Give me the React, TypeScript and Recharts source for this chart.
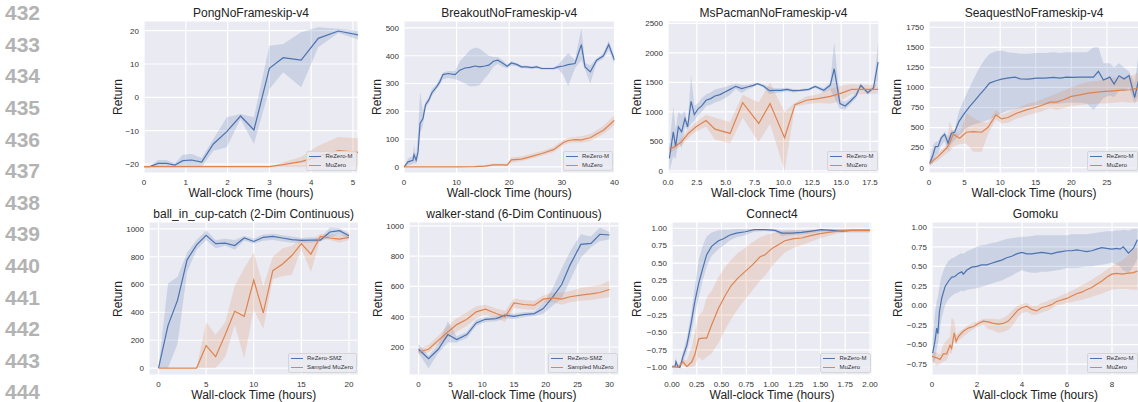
import React from 'react';
import { ComposedChart, Area, Line, XAxis, YAxis, CartesianGrid } from 'recharts';

// each point: [hours, mean, lower, upper]
type Pt = [number, number, number, number];

const lineNumbers = ['432', '433', '434', '435', '436', '437', '438', '439', '440', '441', '442', '443', '444'];

const pongReZero: Pt[] = [
  [0, -20.8, -20.8, -20.8], [0.14, -20.8, -20.8, -20.6], [0.34, -19.8, -20.8, -18.8], [0.54, -19.8, -20.8, -18.8],
  [0.74, -20.3, -20.8, -19.8], [0.93, -19.0, -20.8, -17.2], [1.14, -18.8, -20.8, -17.0], [1.38, -19.4, -20.8, -18.2],
  [1.66, -14.0, -16.0, -12.5], [1.98, -10.3, -15.0, -6.0], [2.31, -5.6, -6.5, -5.0], [2.63, -9.8, -14.0, -6.0],
  [3.0, 8.7, 2.5, 15.5], [3.33, 11.9, 7.5, 16.0], [3.76, 11.2, 3.0, 19.5], [4.17, 17.7, 15.0, 21.0],
  [4.65, 19.9, 19.3, 20.6], [5.13, 18.7, 17.3, 20.0],
];
const pongMuZero: Pt[] = [
  [0, -20.8, -20.8, -20.8], [0.54, -20.8, -20.8, -20.8], [1.14, -20.8, -20.8, -20.8], [1.66, -20.8, -20.8, -20.8],
  [2.31, -20.8, -20.8, -20.8], [3.0, -20.8, -20.8, -20.8], [3.33, -20.2, -20.8, -19.5], [3.76, -19.3, -20.8, -17.8],
  [4.17, -17.8, -20.8, -14.5], [4.65, -16.0, -20.5, -11.9], [5.13, -16.5, -20.6, -12.3],
];

const breakoutReZero: Pt[] = [
  [0, 0, 0, 0], [0.76, 18, 5, 30], [1.7, 24, 10, 40], [1.9, 44, 15, 80], [2.3, 24, 10, 40], [2.67, 54, 30, 120],
  [3.05, 156, 120, 270], [3.6, 174, 150, 200], [4.1, 224, 210, 235], [4.7, 240, 230, 250], [5.3, 267, 255, 280],
  [6.2, 288, 280, 298], [6.8, 306, 295, 318], [7.4, 332, 315, 340], [8.4, 336, 320, 345], [9.7, 332, 315, 345],
  [10.6, 348, 310, 380], [11.6, 356, 300, 400], [12.5, 358, 290, 420], [13.5, 363, 290, 430], [14.4, 360, 295, 425],
  [15.4, 363, 320, 410], [16.1, 366, 335, 400], [17.0, 380, 360, 395], [17.8, 384, 370, 395], [18.7, 374, 360, 385],
  [19.6, 362, 355, 368], [20.4, 374, 365, 380], [21.4, 369, 362, 375], [22.3, 360, 355, 365], [23.3, 360, 355, 365],
  [24.3, 357, 352, 362], [25.2, 360, 355, 365], [26.2, 354, 350, 358], [27.1, 354, 350, 358], [28.4, 354, 350, 358],
  [29.3, 360, 352, 368], [30.3, 363, 330, 390], [31.2, 368, 290, 410], [32.5, 372, 355, 385], [33.7, 440, 385, 500],
  [34.4, 360, 350, 375], [35.4, 342, 300, 365], [36.6, 384, 375, 390], [37.9, 400, 390, 410], [38.9, 440, 420, 455],
  [40.0, 384, 370, 395],
];
const breakoutMuZero: Pt[] = [
  [0, 0, 0, 0], [5.3, 0, 0, 1], [10.6, 0, 0, 2], [13.5, 1, 0, 4], [15.4, 3, 0, 7], [17.0, 7, 2, 12], [18.7, 7, 2, 12],
  [19.6, 6, 2, 11], [20.4, 25, 15, 35], [22.3, 28, 20, 37], [24.3, 38, 30, 47], [26.2, 48, 40, 57], [28.4, 62, 53, 72],
  [30.3, 88, 78, 98], [31.2, 95, 85, 105], [32.5, 98, 88, 108], [33.7, 97, 87, 110], [35.4, 105, 93, 118],
  [36.6, 118, 105, 132], [37.9, 132, 118, 148], [40.0, 168, 150, 186],
];

const pacmanReZero: Pt[] = [
  [0.12, 213, 0, 420], [0.46, 663, 250, 1090], [0.66, 410, 200, 700], [0.9, 747, 500, 1000], [1.18, 663, 380, 950],
  [1.47, 888, 750, 1020], [1.7, 747, 690, 800], [2.0, 1180, 800, 1620], [2.28, 955, 850, 1100], [2.63, 1057, 950, 1150],
  [2.92, 1101, 1000, 1230], [3.3, 1197, 1100, 1300], [3.7, 1225, 1120, 1330], [4.07, 1270, 1160, 1380],
  [4.5, 1293, 1190, 1400], [4.94, 1337, 1230, 1420], [5.38, 1382, 1290, 1450], [5.87, 1433, 1390, 1480],
  [6.39, 1394, 1320, 1460], [6.88, 1422, 1380, 1460], [7.4, 1450, 1420, 1480], [7.75, 1478, 1460, 1495],
  [8.27, 1438, 1410, 1465], [8.79, 1360, 1300, 1420], [9.28, 1366, 1320, 1400], [9.77, 1366, 1330, 1400],
  [10.3, 1382, 1350, 1410], [10.8, 1360, 1330, 1390], [11.45, 1366, 1340, 1390], [12.2, 1382, 1360, 1400],
  [12.75, 1433, 1410, 1455], [13.5, 1366, 1330, 1400], [14.05, 1450, 1380, 1500], [14.4, 1731, 1250, 2180],
  [14.9, 1141, 1050, 1200], [15.35, 1101, 1040, 1170], [15.8, 1180, 1130, 1230], [16.3, 1281, 1230, 1330],
  [16.7, 1450, 1420, 1480], [17.3, 1326, 1290, 1360], [17.8, 1405, 1380, 1430], [18.2, 1843, 1500, 2180],
];
const pacmanMuZero: Pt[] = [
  [0.12, 371, 300, 420], [0.6, 410, 360, 450], [1.18, 495, 430, 560], [1.76, 635, 560, 700], [2.43, 747, 670, 830],
  [3.3, 854, 750, 950], [4.07, 708, 530, 900], [5.38, 635, 470, 830], [6.47, 1158, 900, 1290], [7.86, 804, 490, 1160],
  [8.84, 1141, 800, 1500], [10.1, 562, 0, 1000], [11.0, 1124, 1090, 1160], [12.0, 1197, 1130, 1260],
  [13.0, 1225, 1150, 1300], [14.05, 1264, 1140, 1390], [14.9, 1309, 1180, 1440], [15.9, 1382, 1300, 1470],
  [16.9, 1382, 1300, 1460], [18.2, 1382, 1310, 1450],
];

const seaquestReZero: Pt[] = [
  [0.1, 54, 20, 100], [0.56, 158, 60, 280], [0.9, 262, 150, 320], [1.27, 262, 180, 330], [1.74, 375, 280, 400],
  [2.2, 417, 330, 450], [2.68, 304, 210, 380], [3.15, 429, 300, 460], [3.6, 442, 340, 470], [4.2, 575, 400, 700],
  [5.0, 679, 480, 870], [5.7, 762, 520, 1000], [6.4, 833, 540, 1130], [7.1, 908, 560, 1250], [7.84, 983, 580, 1350],
  [8.5, 1054, 600, 1420], [9.4, 1083, 640, 1450], [10.2, 1104, 680, 1460], [11.0, 1117, 710, 1440],
  [12.07, 1129, 730, 1430], [12.8, 1108, 740, 1420], [14.0, 1104, 760, 1420], [15.1, 1117, 780, 1430],
  [16.3, 1117, 790, 1430], [17.5, 1125, 790, 1440], [18.4, 1117, 800, 1430], [19.3, 1129, 810, 1440],
  [20.3, 1125, 810, 1440], [21.2, 1129, 810, 1440], [22.2, 1129, 800, 1440], [23.1, 1129, 720, 1500],
  [23.8, 1200, 790, 1500], [24.5, 1092, 870, 1300], [25.4, 1129, 900, 1300], [26.0, 1042, 880, 1250],
  [26.7, 1146, 960, 1300], [27.4, 1104, 950, 1250], [28.1, 1150, 1000, 1200], [28.9, 875, 800, 1050],
  [29.4, 1075, 900, 1400],
];
const seaquestMuZero: Pt[] = [
  [0.1, 54, 30, 80], [1.27, 138, 90, 180], [2.44, 242, 180, 280], [2.9, 304, 200, 575], [3.4, 417, 260, 450],
  [4.3, 367, 300, 420], [5.26, 442, 300, 680], [6.2, 450, 200, 620], [7.4, 442, 200, 570], [8.3, 504, 420, 560],
  [9.4, 658, 600, 720], [10.2, 608, 550, 660], [11.1, 625, 560, 690], [12.3, 679, 610, 740], [13.7, 721, 650, 790],
  [14.9, 750, 680, 820], [15.8, 775, 700, 850], [17.0, 817, 740, 890], [17.9, 817, 720, 920], [18.9, 846, 740, 960],
  [20.0, 888, 770, 1000], [21.2, 908, 780, 1040], [22.4, 929, 790, 1070], [23.6, 942, 800, 1080],
  [24.7, 950, 800, 1100], [25.9, 958, 810, 1120], [27.1, 967, 820, 1130], [28.3, 971, 810, 1140],
  [29.4, 992, 820, 1180],
];

const cupReZero: Pt[] = [
  [0, 0, 0, 0], [1, 307, 0, 608], [2, 488, 174, 657], [3, 778, 690, 830], [4, 886, 850, 920], [5, 954, 920, 990],
  [6, 894, 860, 920], [7, 898, 880, 930], [8, 881, 850, 920], [9, 935, 915, 950], [10, 910, 895, 930],
  [11, 940, 915, 960], [12, 947, 920, 965], [13, 935, 910, 955], [14, 923, 900, 945], [15, 918, 900, 935],
  [16, 920, 900, 940], [17, 920, 910, 935], [18, 978, 940, 1010], [19, 988, 960, 1005], [20, 951, 935, 970],
];
const cupMuZero: Pt[] = [
  [0, 0, 0, 0], [1, 0, 0, 0], [2, 0, 0, 0], [3, 0, 0, 0], [4, 0, 0, 0], [5, 162, 0, 330], [6, 82, 0, 240],
  [7, 239, 80, 330], [8, 408, 310, 590], [9, 372, 70, 720], [10, 633, 420, 830], [11, 396, 280, 590],
  [12, 700, 640, 800], [13, 746, 660, 860], [14, 809, 670, 880], [15, 894, 860, 930], [16, 819, 690, 910],
  [17, 947, 930, 965], [18, 935, 920, 960], [19, 927, 900, 955], [20, 940, 920, 960],
];

const walkerReZero: Pt[] = [
  [0, 185, 160, 220], [1.57, 123, 60, 140], [3.1, 185, 160, 220], [4.6, 282, 230, 370], [6.0, 249, 230, 270],
  [7.6, 282, 260, 300], [9.06, 359, 340, 380], [10.5, 383, 365, 400], [12.2, 388, 370, 405], [13.6, 410, 390, 425],
  [15.0, 403, 385, 420], [16.5, 414, 395, 430], [18.2, 421, 405, 435], [19.6, 454, 420, 490], [21.1, 532, 475, 590],
  [22.5, 613, 520, 720], [23.8, 741, 640, 830], [25.5, 878, 790, 945], [27.1, 885, 860, 930], [28.5, 945, 900, 990],
  [30, 940, 910, 960],
];
const walkerMuZero: Pt[] = [
  [0, 167, 150, 190], [1.57, 185, 165, 215], [3.1, 244, 215, 275], [4.6, 299, 260, 340], [6.0, 348, 300, 390],
  [7.6, 383, 340, 430], [9.06, 432, 390, 470], [10.5, 450, 415, 480], [12.2, 421, 390, 455], [13.6, 399, 365, 440],
  [15.0, 492, 460, 520], [16.5, 481, 450, 510], [18.2, 476, 445, 505], [19.6, 516, 490, 540], [21.1, 525, 495, 560],
  [22.5, 516, 480, 560], [23.8, 532, 495, 570], [25.5, 543, 505, 590], [27.1, 551, 510, 600], [28.5, 560, 520, 610],
  [30, 580, 530, 640],
];

const connectReZero: Pt[] = [
  [0, -0.99, -1.0, -0.97], [0.03, -0.99, -1.0, -0.97], [0.04, -0.92, -1.0, -0.86], [0.06, -0.99, -1.0, -0.97],
  [0.08, -1.0, -1.0, -0.97], [0.11, -0.85, -0.93, -0.78], [0.15, -0.68, -0.78, -0.58], [0.19, -0.39, -0.55, -0.25],
  [0.23, -0.06, -0.25, 0.15], [0.27, 0.21, 0.0, 0.55], [0.31, 0.42, 0.25, 0.75], [0.35, 0.62, 0.45, 0.88],
  [0.4, 0.74, 0.6, 0.94], [0.47, 0.82, 0.7, 0.97], [0.52, 0.85, 0.75, 0.98], [0.58, 0.9, 0.82, 0.98],
  [0.65, 0.93, 0.87, 0.99], [0.74, 0.95, 0.9, 0.99], [0.83, 0.98, 0.95, 0.99], [0.94, 0.98, 0.96, 0.99],
  [1.04, 0.97, 0.95, 0.99], [1.11, 0.93, 0.89, 0.97], [1.21, 0.93, 0.9, 0.97], [1.31, 0.94, 0.91, 0.97],
  [1.41, 0.96, 0.93, 0.98], [1.51, 0.98, 0.95, 0.99], [1.61, 0.97, 0.95, 0.99], [1.71, 0.96, 0.94, 0.99],
  [1.81, 0.97, 0.94, 0.99], [1.92, 0.97, 0.94, 0.99], [2.0, 0.97, 0.94, 0.99],
];
const connectMuZero: Pt[] = [
  [0, -0.99, -1.0, -0.97], [0.06, -1.0, -1.0, -0.97], [0.11, -0.92, -0.97, -0.88], [0.15, -0.99, -1.0, -0.9],
  [0.2, -0.92, -1.0, -0.7], [0.23, -0.82, -0.98, -0.5], [0.27, -0.59, -0.85, -0.25], [0.31, -0.58, -0.9, -0.2],
  [0.35, -0.58, -0.85, 0.0], [0.4, -0.39, -0.8, 0.1], [0.47, -0.15, -0.65, 0.3], [0.54, 0.04, -0.45, 0.45],
  [0.6, 0.18, -0.3, 0.55], [0.67, 0.29, -0.15, 0.65], [0.74, 0.38, -0.02, 0.72], [0.81, 0.47, 0.1, 0.8],
  [0.89, 0.59, 0.25, 0.87], [0.94, 0.62, 0.32, 0.9], [1.01, 0.71, 0.45, 0.93], [1.07, 0.76, 0.55, 0.95],
  [1.14, 0.82, 0.65, 0.96], [1.23, 0.85, 0.72, 0.97], [1.31, 0.86, 0.76, 0.97], [1.39, 0.89, 0.8, 0.98],
  [1.48, 0.92, 0.85, 0.98], [1.58, 0.94, 0.89, 0.99], [1.68, 0.96, 0.93, 0.99], [1.78, 0.97, 0.95, 0.99],
  [1.88, 0.97, 0.95, 0.99], [2.0, 0.97, 0.95, 0.99],
];

const gomokuReZero: Pt[] = [
  [0.03, -0.61, -0.75, -0.45], [0.13, -0.46, -0.7, -0.1], [0.21, -0.29, -0.55, 0.05], [0.26, -0.36, -0.5, 0.1],
  [0.33, -0.08, -0.35, 0.25], [0.43, 0.09, -0.15, 0.38], [0.58, 0.24, 0.0, 0.5], [0.73, 0.31, 0.08, 0.57],
  [0.87, 0.36, 0.12, 0.6], [1.02, 0.37, 0.15, 0.62], [1.17, 0.41, 0.17, 0.65], [1.32, 0.43, 0.19, 0.67],
  [1.39, 0.4, 0.18, 0.66], [1.54, 0.45, 0.2, 0.69], [1.76, 0.49, 0.21, 0.72], [1.99, 0.5, 0.22, 0.75],
  [2.21, 0.52, 0.24, 0.77], [2.43, 0.52, 0.26, 0.78], [2.65, 0.54, 0.28, 0.8], [2.87, 0.56, 0.3, 0.81],
  [3.1, 0.58, 0.32, 0.83], [3.32, 0.61, 0.35, 0.85], [3.54, 0.63, 0.38, 0.86], [3.76, 0.66, 0.42, 0.87],
  [3.99, 0.68, 0.45, 0.88], [4.21, 0.66, 0.43, 0.88], [4.43, 0.66, 0.42, 0.89], [4.65, 0.67, 0.42, 0.9],
  [4.87, 0.68, 0.43, 0.9], [5.1, 0.67, 0.43, 0.9], [5.32, 0.66, 0.44, 0.9], [5.54, 0.68, 0.45, 0.9],
  [5.76, 0.69, 0.46, 0.9], [5.99, 0.7, 0.48, 0.9], [6.21, 0.7, 0.48, 0.91], [6.43, 0.71, 0.48, 0.91],
  [6.65, 0.7, 0.49, 0.91], [6.87, 0.69, 0.5, 0.91], [7.1, 0.7, 0.5, 0.92], [7.32, 0.72, 0.51, 0.93],
  [7.54, 0.74, 0.52, 0.94], [7.76, 0.73, 0.53, 0.95], [7.99, 0.72, 0.55, 0.95], [8.21, 0.73, 0.52, 0.96],
  [8.36, 0.72, 0.5, 0.96], [8.5, 0.75, 0.45, 0.97], [8.73, 0.67, 0.42, 0.96], [8.95, 0.73, 0.5, 0.98],
  [9.13, 0.84, 0.6, 0.98],
];
const gomokuMuZero: Pt[] = [
  [0, -0.65, -0.7, -0.6], [0.2, -0.67, -0.77, -0.6], [0.36, -0.69, -0.75, -0.63], [0.5, -0.62, -0.72, -0.5],
  [0.65, -0.62, -0.7, -0.45], [0.8, -0.51, -0.6, -0.4], [0.87, -0.55, -0.62, -0.15], [0.99, -0.35, -0.45, -0.2],
  [1.07, -0.46, -0.5, -0.38], [1.17, -0.4, -0.45, -0.35], [1.39, -0.33, -0.4, -0.3], [1.61, -0.29, -0.35, -0.25],
  [1.84, -0.27, -0.3, -0.22], [2.06, -0.23, -0.27, -0.2], [2.28, -0.2, -0.25, -0.17], [2.5, -0.21, -0.3, -0.17],
  [2.73, -0.23, -0.32, -0.17], [2.95, -0.24, -0.35, -0.18], [3.17, -0.23, -0.34, -0.16], [3.39, -0.2, -0.31, -0.12],
  [3.61, -0.13, -0.25, -0.05], [3.81, -0.06, -0.15, 0.0], [3.99, -0.03, -0.1, 0.02], [4.21, -0.01, -0.08, 0.03],
  [4.43, -0.05, -0.12, 0.0], [4.65, -0.07, -0.12, 0.0], [4.87, -0.03, -0.09, 0.03], [5.1, -0.01, -0.07, 0.05],
  [5.32, 0.01, -0.04, 0.08], [5.54, 0.05, 0.0, 0.1], [5.76, 0.07, 0.01, 0.13], [5.99, 0.09, 0.03, 0.16],
  [6.21, 0.12, 0.04, 0.19], [6.43, 0.15, 0.06, 0.22], [6.65, 0.17, 0.07, 0.26], [6.87, 0.2, 0.09, 0.29],
  [7.1, 0.23, 0.11, 0.33], [7.32, 0.27, 0.13, 0.37], [7.54, 0.31, 0.15, 0.41], [7.76, 0.36, 0.18, 0.46],
  [7.99, 0.4, 0.2, 0.5], [8.21, 0.41, 0.21, 0.54], [8.43, 0.4, 0.21, 0.57], [8.65, 0.41, 0.21, 0.62],
  [8.95, 0.42, 0.2, 0.7], [9.13, 0.44, 0.2, 0.75],
];

const BLUE = '#4C72B0';
const ORANGE = '#DD8452';
const FONT = '"Liberation Sans", Arial, sans-serif';

const minus = (s: string) => s.replace('-', '\u2212');
const fmt0 = (v: number) => minus(String(v));
const fmt1 = (v: number) => minus(v.toFixed(1));
const fmt2 = (v: number) => minus(v.toFixed(2));

// join the two series on their x values; gaps are bridged with connectNulls
const mergeRows = (a: Pt[], b: Pt[]) => {
  const m = new Map<number, any>();
  a.forEach(([x, y, lo, hi]) => m.set(x, { ...(m.get(x) || { x }), a: y, aBand: [lo, hi] }));
  b.forEach(([x, y, lo, hi]) => m.set(x, { ...(m.get(x) || { x }), b: y, bBand: [lo, hi] }));
  return [...m.values()].sort((p, q) => p.x - q.x);
};

interface PanelProps {
  title: string;
  box: [number, number, number, number];
  labelX: number;
  xDomain: [number, number];
  yDomain: [number, number];
  xTicks: number[];
  yTicks: number[];
  xFmt: (v: number) => string;
  yFmt: (v: number) => string;
  a: Pt[];
  b: Pt[];
  names: [string, string];
}

const tickStyle = { fontSize: 8, fill: '#333', fontFamily: FONT };
const PAD_TOP = 10;
const PAD_RIGHT = 16;

const Panel: React.FC<PanelProps> = ({ title, box, labelX, xDomain, yDomain, xTicks, yTicks, xFmt, yFmt, a, b, names }) => {
  const [l, t, r, bt] = box;
  const w = r - l;
  const h = bt - t;
  const cx = (l + r) / 2;
  const rows = mergeRows(a, b);
  return (
    <>
      <div style={{ position: 'absolute', left: cx - 150, width: 300, top: t - 14, fontSize: 12, lineHeight: '12px', textAlign: 'center', color: '#222' }}>
        {title}
      </div>
      <div style={{ position: 'absolute', left: labelX - 50, top: (t + bt) / 2 - 7, width: 100, height: 14, lineHeight: '14px', fontSize: 12, textAlign: 'center', color: '#222', transform: 'rotate(-90deg)' }}>
        Return
      </div>
      <div style={{ position: 'absolute', left: cx - 150, width: 300, top: bt + 14, fontSize: 12, lineHeight: '12px', textAlign: 'center', color: '#222' }}>
        Wall-clock Time (hours)
      </div>
      <div style={{ position: 'absolute', left: l - 40, top: t - PAD_TOP }}>
        <ComposedChart width={w + 40 + PAD_RIGHT} height={h + 20 + PAD_TOP} data={rows}
          margin={{ top: PAD_TOP, right: PAD_RIGHT, bottom: 0, left: 0 }}>
          <CartesianGrid stroke="#fff" strokeWidth={1.2} fill="#EAEAF2" fillOpacity={1} />
          <XAxis type="number" dataKey="x" domain={xDomain} ticks={xTicks} tickFormatter={xFmt} allowDataOverflow
            axisLine={false} tickLine={false} tickSize={0} tickMargin={6} height={20} interval={0} tick={tickStyle} />
          <YAxis type="number" domain={yDomain} ticks={yTicks} tickFormatter={yFmt} allowDataOverflow
            axisLine={false} tickLine={false} tickSize={0} tickMargin={5} width={40} interval={0} tick={tickStyle} />
          <Area dataKey="aBand" stroke="none" fill={BLUE} fillOpacity={0.2} connectNulls dot={false} activeDot={false} isAnimationActive={false} />
          <Line dataKey="a" stroke={BLUE} strokeWidth={1.2} connectNulls dot={false} activeDot={false} isAnimationActive={false} />
          <Area dataKey="bBand" stroke="none" fill={ORANGE} fillOpacity={0.2} connectNulls dot={false} activeDot={false} isAnimationActive={false} />
          <Line dataKey="b" stroke={ORANGE} strokeWidth={1.2} connectNulls dot={false} activeDot={false} isAnimationActive={false} />
        </ComposedChart>
      </div>
      <div style={{ position: 'absolute', right: 1138 - (r - 1.5), bottom: 402 - (bt - 2), padding: '0.5px 3px 0.5px 2px', background: 'rgba(234,234,242,0.8)', border: '1px solid #d6d6d6', borderRadius: 2, fontSize: 6, color: '#333' }}>
        {names.map((n, i) => (
          <div key={n} style={{ display: 'flex', alignItems: 'center', height: 8.7, whiteSpace: 'nowrap' }}>
            <span style={{ display: 'inline-block', width: 12, borderTop: `1.2px solid ${i === 0 ? BLUE : ORANGE}`, marginRight: 4 }} />
            {n}
          </div>
        ))}
      </div>
    </>
  );
};

const atari: [string, string] = ['ReZero-M', 'MuZero'];
const control: [string, string] = ['ReZero-SMZ', 'Sampled MuZero'];

export default function App() {
  return (
    <div style={{ position: 'absolute', left: 0, top: 0, width: 1138, height: 402, overflow: 'hidden', background: '#fff', fontFamily: FONT }}>
      {lineNumbers.map((n, i) => (
        <div key={n} style={{ position: 'absolute', left: 0, width: 40, top: 13 + 31.6 * i - 6.75, fontSize: 21, lineHeight: '14px', fontWeight: 700, color: '#b3b3b3', textAlign: 'right' }}>
          {n}
        </div>
      ))}
      <Panel title="PongNoFrameskip-v4" box={[144, 21, 358, 173]} labelX={118} xDomain={[0, 5.12]} yDomain={[-22.7, 22.9]}
        xTicks={[0, 1, 2, 3, 4, 5]} yTicks={[-20, -10, 0, 10, 20]} xFmt={fmt0} yFmt={fmt0} a={pongReZero} b={pongMuZero} names={atari} />
      <Panel title="BreakoutNoFrameskip-v4" box={[404, 21, 614.5, 173]} labelX={377} xDomain={[0, 40]} yDomain={[-22, 525]}
        xTicks={[0, 10, 20, 30, 40]} yTicks={[0, 100, 200, 300, 400, 500]} xFmt={fmt0} yFmt={fmt0} a={breakoutReZero} b={breakoutMuZero} names={atari} />
      <Panel title="MsPacmanNoFrameskip-v4" box={[668, 21, 879, 173]} labelX={637} xDomain={[0, 18.28]} yDomain={[-35, 2540]}
        xTicks={[0, 2.5, 5, 7.5, 10, 12.5, 15, 17.5]} yTicks={[0, 500, 1000, 1500, 2000, 2500]} xFmt={fmt1} yFmt={fmt0} a={pacmanReZero} b={pacmanMuZero} names={atari} />
      <Panel title="SeaquestNoFrameskip-v4" box={[929, 21, 1139, 173]} labelX={897} xDomain={[0, 29.5]} yDomain={[-66, 1828]}
        xTicks={[0, 5, 10, 15, 20, 25]} yTicks={[0, 250, 500, 750, 1000, 1250, 1500, 1750]} xFmt={fmt0} yFmt={fmt0} a={seaquestReZero} b={seaquestMuZero} names={atari} />
      <Panel title="ball_in_cup-catch (2-Dim Continuous)" box={[149, 222, 358.5, 375]} labelX={118} xDomain={[-1, 21]} yDomain={[-50, 1050]}
        xTicks={[0, 5, 10, 15, 20]} yTicks={[0, 200, 400, 600, 800, 1000]} xFmt={fmt0} yFmt={fmt0} a={cupReZero} b={cupMuZero} names={control} />
      <Panel title="walker-stand (6-Dim Continuous)" box={[409, 222, 619, 375]} labelX={378} xDomain={[-1.5, 31.5]} yDomain={[15, 1026]}
        xTicks={[0, 5, 10, 15, 20, 25, 30]} yTicks={[200, 400, 600, 800, 1000]} xFmt={fmt0} yFmt={fmt0} a={walkerReZero} b={walkerMuZero} names={control} />
      <Panel title="Connect4" box={[672, 222, 872, 375]} labelX={637} xDomain={[0, 2.02]} yDomain={[-1.11, 1.09]}
        xTicks={[0, 0.25, 0.5, 0.75, 1, 1.25, 1.5, 1.75, 2]} yTicks={[-1, -0.75, -0.5, -0.25, 0, 0.25, 0.5, 0.75, 1]} xFmt={fmt2} yFmt={fmt2} a={connectReZero} b={connectMuZero} names={atari} />
      <Panel title="Gomoku" box={[932, 222, 1139, 375]} labelX={898} xDomain={[0, 9.2]} yDomain={[-0.89, 1.068]}
        xTicks={[0, 2, 4, 6, 8]} yTicks={[-0.75, -0.5, -0.25, 0, 0.25, 0.5, 0.75, 1]} xFmt={fmt0} yFmt={fmt2} a={gomokuReZero} b={gomokuMuZero} names={atari} />
    </div>
  );
}
